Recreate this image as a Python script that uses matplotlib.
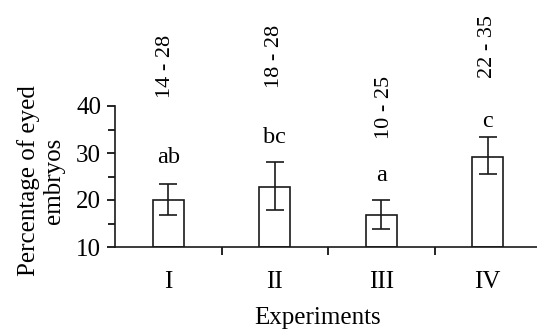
import matplotlib
matplotlib.use("Agg")
import matplotlib.pyplot as plt
from matplotlib.ticker import MultipleLocator, FixedLocator, NullFormatter

categories = ["I", "II", "III", "IV"]
means = [20.0, 22.8, 16.9, 29.1]
err_upper = [23.3, 28.1, 20.1, 33.3]
err_lower = [16.9, 17.8, 13.8, 25.5]
letters = ["ab", "bc", "a", "c"]
ranges = ["14 - 28", "18 - 28", "10 - 25", "22 - 35"]

plt.rcParams["font.family"] = ["Liberation Serif", "DejaVu Serif"]

fig = plt.figure(figsize=(5.37, 3.30), dpi=100)
ax = fig.add_axes([115 / 537, 83 / 330, 426 / 537, 141 / 330])

x = list(range(len(categories)))
ax.bar(x, [m - 10 for m in means], bottom=10, width=0.29, color="white",
       edgecolor="#1a1a1a", linewidth=1.2, zorder=2)
yerr = [[m - lo for m, lo in zip(means, err_lower)],
        [hi - m for m, hi in zip(means, err_upper)]]
ax.errorbar(x, means, yerr=yerr, fmt="none", ecolor="#1a1a1a",
            elinewidth=1.2, capsize=6.3, capthick=1.2, zorder=3)

letter_y = [29.1, 33.4, 25.3, 36.6]
range_y = [48.5, 50.5, 39.6, 52.7]
range_dx = [-0.03, 0.0, 0.03, 0.0]
for xi, lt, ly in zip(x, letters, letter_y):
    ax.text(xi, ly, lt, ha="center", va="center", fontsize=17.5, clip_on=False)
for xi, rt, ry, dx in zip(x, ranges, range_y, range_dx):
    ax.text(xi + dx, ry, rt, ha="center", va="center", rotation=90,
            fontsize=16, clip_on=False)

ax.set_xlim(-0.5, 3.5)
ax.set_ylim(10, 40)
ax.yaxis.set_major_locator(MultipleLocator(10))
ax.yaxis.set_minor_locator(MultipleLocator(5))
ax.tick_params(axis="y", which="major", direction="out", length=6, width=1.2,
               labelsize=18, pad=4)
ax.tick_params(axis="y", which="minor", direction="out", length=5, width=1.2)

ax.set_xticks(x)
ax.set_xticklabels(categories)
ax.tick_params(axis="x", which="major", length=0, labelsize=18, pad=17)
ax.xaxis.set_minor_locator(FixedLocator([0.5, 1.5, 2.5]))
ax.xaxis.set_minor_formatter(NullFormatter())
ax.tick_params(axis="x", which="minor", direction="out", length=6, width=1.2)

for s in ["top", "right"]:
    ax.spines[s].set_visible(False)
for s in ["left", "bottom"]:
    ax.spines[s].set_linewidth(1.2)
    ax.spines[s].set_color("#1a1a1a")

ax.set_ylabel("Percentage of eyed\nembryos", fontsize=18, linespacing=1.2,
              va="center")
ax.yaxis.set_label_coords((41 - 115) / 426, 0.47)
ax.set_xlabel("Experiments", fontsize=18, va="center")
ax.xaxis.set_label_coords((318 - 115) / 426, (247 - 318) / 141)

fig.savefig("out.png", dpi=100)
